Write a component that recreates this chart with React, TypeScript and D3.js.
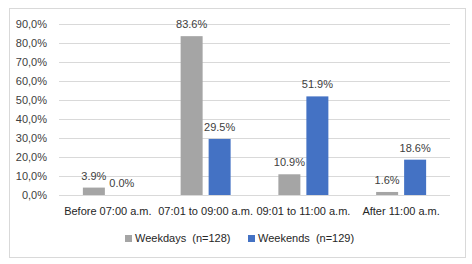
import React from "react";
import * as d3 from "d3";

const categories = ["Before 07:00 a.m.", "07:01 to 09:00 a.m.", "09:01 to 11:00 a.m.", "After 11:00 a.m."];
const weekdays = [3.9, 83.6, 10.9, 1.6];
const weekends = [0.0, 29.5, 51.9, 18.6];
const seriesNames = ["Weekdays  (n=128)", "Weekends  (n=129)"];
const colors = ["#A5A5A5", "#4472C4"];
const yTicks = [0, 10, 20, 30, 40, 50, 60, 70, 80, 90];

export default function App() {
  const W = 472, H = 264;
  const left = 59, right = 450, top = 24, bottom = 195;
  const font = "'Liberation Sans', Arial, sans-serif";
  const x = d3.scaleBand<string>().domain(categories).range([left, right]).padding(0);
  const y = d3.scaleLinear().domain([0, 90]).range([bottom, top]);
  const barW = 22, gap = 6;
  const series = [weekdays, weekends];
  const fmt = (v: number) => v.toFixed(1).replace(".", ",") + "%";
  return (
    <svg width={W} height={H} style={{ position: "absolute", left: 0, top: 0 }}>
      <rect x={0} y={0} width={W} height={H} fill="#fff" />
      <rect x={9.5} y={8.5} width={456} height={249} fill="#fff" stroke="#D9D9D9" />
      {yTicks.map((t) => (
        <g key={t}>
          <line x1={left} x2={right} y1={Math.round(y(t)) + 0.5} y2={Math.round(y(t)) + 0.5} stroke="#D9D9D9" />
          <text x={47} y={y(t) + 4} textAnchor="end" fontFamily={font} fontSize={11} fill="#404040">{fmt(t)}</text>
        </g>
      ))}
      {categories.map((c, i) => {
        const cx = x(c)! + x.bandwidth() / 2;
        return (
          <g key={c}>
            {series.map((s, j) => {
              const bx = j === 0 ? cx - gap / 2 - barW : cx + gap / 2;
              const by = y(s[i]);
              return (
                <g key={j}>
                  <rect x={bx} y={by} width={barW} height={bottom - by} fill={colors[j]} />
                  <text x={bx + barW / 2} y={by - 8} textAnchor="middle" fontFamily={font} fontSize={11} fill="#404040">{s[i].toFixed(1) + "%"}</text>
                </g>
              );
            })}
            <text x={cx} y={215} textAnchor="middle" fontFamily={font} fontSize={11} fill="#262626">{c}</text>
          </g>
        );
      })}
      {seriesNames.map((n, j) => {
        const lx = j === 0 ? 125 : 248;
        return (
          <g key={n}>
            <rect x={lx} y={235} width={7} height={7} fill={colors[j]} />
            <text x={lx + 10} y={242} fontFamily={font} fontSize={11} fill="#262626" style={{ whiteSpace: "pre" }}>{n}</text>
          </g>
        );
      })}
    </svg>
  );
}
